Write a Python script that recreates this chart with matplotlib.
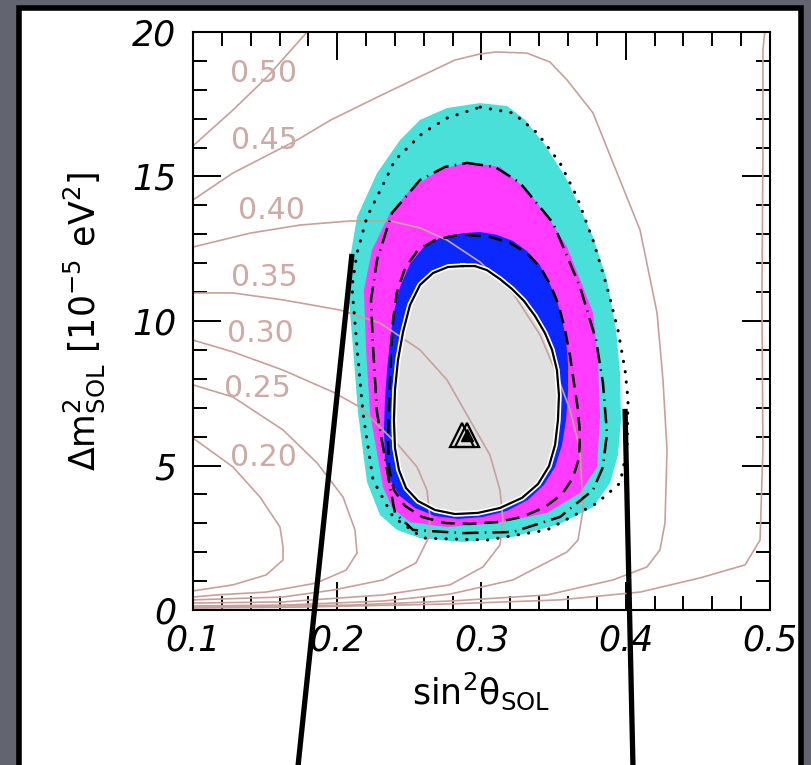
import matplotlib
matplotlib.use('Agg')
import matplotlib.pyplot as plt
from matplotlib.patches import Rectangle
import numpy as np

plt.rcParams['font.family'] = ['DejaVu Sans']
plt.rcParams['mathtext.fontset'] = 'dejavusans'

# ---------------- data (sin^2 theta, dm^2 [1e-5 eV^2]) ----------------
xticks = [0.1, 0.2, 0.3, 0.4, 0.5]
xtick_labels = ['0.1', '0.2', '0.3', '0.4', '0.5']
yticks = [0, 5, 10, 15, 20]
ytick_labels = ['0', '5', '10', '15', '20']

# allowed regions (outer to inner)
teal_x = [0.2990, 0.3177, 0.3302, 0.3440, 0.3593, 0.3773, 0.3870, 0.3933, 0.3960, 0.3967, 0.3946, 0.3891,
          0.3773, 0.3544, 0.3218, 0.2872, 0.2574, 0.2414, 0.2296, 0.2206, 0.2144, 0.2109, 0.2081, 0.2095,
          0.2137, 0.2276, 0.2435, 0.2574, 0.2761]
teal_y = [17.54, 17.44, 16.96, 16.09, 14.88, 12.91, 11.42, 9.69, 8.20, 6.57, 5.36, 4.39,
          3.56, 2.98, 2.53, 2.35, 2.49, 2.77, 3.29, 4.43, 6.82, 9.10, 10.73, 12.35,
          13.60, 15.12, 16.26, 16.96, 17.37]

dot_x = [0.2990, 0.3218, 0.3385, 0.3544, 0.3662, 0.3773, 0.3870, 0.3946, 0.3995, 0.4016, 0.4009, 0.3960,
         0.3801, 0.3454, 0.3038, 0.2594, 0.2387, 0.2248, 0.2178, 0.2137, 0.2102, 0.2137, 0.2206, 0.2310,
         0.2400, 0.2594, 0.2761]
dot_y = [17.40, 17.20, 16.51, 15.47, 14.29, 12.80, 11.18, 9.69, 8.30, 7.27, 5.54, 4.39,
         3.70, 2.77, 2.42, 2.49, 3.22, 4.50, 6.82, 9.10, 11.18, 12.35, 13.60, 14.64,
         15.57, 16.51, 17.02]

mag_x = [0.2899, 0.3128, 0.3315, 0.3475, 0.3593, 0.3697, 0.3773, 0.3808, 0.3822, 0.3801, 0.3683, 0.3454,
         0.3107, 0.2761, 0.2504, 0.2380, 0.2317, 0.2227, 0.2199, 0.2185, 0.2241, 0.2366, 0.2525, 0.2712]
mag_y = [15.50, 15.33, 14.53, 13.49, 12.56, 11.25, 10.28, 8.65, 6.68, 4.95, 4.05, 3.36,
         3.01, 2.87, 3.04, 3.53, 4.26, 6.82, 9.10, 11.07, 12.46, 13.74, 14.64, 15.22]

dd_x = [0.2899, 0.3094, 0.3267, 0.3496, 0.3683, 0.3794, 0.3842, 0.3870, 0.3842, 0.3773, 0.3544, 0.3218,
        0.2872, 0.2525, 0.2400, 0.2366, 0.2276, 0.2248, 0.2234, 0.2276, 0.2380, 0.2574, 0.2747]
dd_y = [15.47, 15.33, 14.78, 13.39, 11.18, 9.34, 7.85, 6.12, 4.95, 4.15, 3.22, 2.70,
        2.66, 2.77, 3.36, 4.26, 6.82, 9.10, 10.73, 12.11, 13.74, 14.88, 15.33]

blue_x = [0.2872, 0.2990, 0.3107, 0.3218, 0.3315, 0.3399, 0.3461, 0.3516, 0.3558, 0.3586, 0.3600, 0.3600,
          0.3586, 0.3558, 0.3510, 0.3433, 0.3322, 0.3177, 0.3010, 0.2837, 0.2678, 0.2539, 0.2435, 0.2366,
          0.2331, 0.2324, 0.2331, 0.2345, 0.2366, 0.2393, 0.2435, 0.2504, 0.2594, 0.2712]
blue_y = [13.04, 13.08, 12.98, 12.77, 12.42, 11.97, 11.42, 10.80, 10.10, 9.34, 8.48, 7.54,
          6.57, 5.71, 4.95, 4.33, 3.81, 3.43, 3.22, 3.15, 3.25, 3.53, 3.94, 4.50,
          5.19, 6.23, 7.27, 8.30, 9.34, 10.31, 11.18, 11.97, 12.53, 12.87]

dash_x = [0.2899, 0.3059, 0.3198, 0.3315, 0.3412, 0.3482, 0.3537, 0.3579, 0.3614, 0.3641, 0.3669, 0.3683,
          0.3676, 0.3634, 0.3558, 0.3440, 0.3281, 0.3107, 0.2920, 0.2747, 0.2588, 0.2470, 0.2393, 0.2359,
          0.2352, 0.2359, 0.2366, 0.2373, 0.2387, 0.2414, 0.2470, 0.2560, 0.2678, 0.2796]
dash_y = [12.98, 12.91, 12.70, 12.35, 11.83, 11.21, 10.52, 9.69, 8.79, 7.85, 6.92, 6.06,
          5.26, 4.57, 4.01, 3.56, 3.22, 3.04, 2.98, 3.01, 3.22, 3.60, 4.15, 4.91,
          5.88, 6.92, 7.96, 9.00, 10.03, 11.00, 11.83, 12.46, 12.80, 12.94]

grey_x = [0.2872, 0.2955, 0.3038, 0.3128, 0.3211, 0.3295, 0.3371, 0.3440, 0.3489, 0.3523, 0.3537, 0.3530,
          0.3510, 0.3468, 0.3392, 0.3281, 0.3128, 0.2976, 0.2816, 0.2678, 0.2560, 0.2477, 0.2428, 0.2400,
          0.2393, 0.2400, 0.2421, 0.2456, 0.2504, 0.2574, 0.2664, 0.2768]
grey_y = [11.90, 11.90, 11.76, 11.45, 11.11, 10.69, 10.17, 9.58, 9.00, 8.30, 7.44, 6.57,
          5.71, 4.98, 4.36, 3.88, 3.53, 3.36, 3.32, 3.46, 3.77, 4.22, 4.84, 5.61,
          6.57, 7.61, 8.65, 9.62, 10.55, 11.25, 11.66, 11.87]

best_fit_x = [0.2865, 0.2900]
best_fit_y = [6.06, 6.06]

# iso-contours
c20_x = [0.1, 0.1277, 0.1464, 0.1603, 0.1624, 0.1624, 0.1506, 0.1277, 0.1]
c20_y = [5.95, 4.95, 3.91, 2.87, 2.18, 1.73, 1.21, 0.87, 0.66]
c25_x = [0.1, 0.1277, 0.1624, 0.1860, 0.2040, 0.2123, 0.2137, 0.2061, 0.1853, 0.1506, 0.1159, 0.1]
c25_y = [7.79, 7.37, 6.23, 5.09, 3.91, 2.77, 1.97, 1.38, 0.93, 0.62, 0.52, 0.45]
c30_x = [0.1, 0.1277, 0.1624, 0.1971, 0.2158, 0.2296, 0.2435, 0.2553, 0.2622, 0.2643, 0.2636, 0.2546,
         0.2317, 0.1971, 0.1624, 0.1]
c30_y = [9.34, 8.93, 8.30, 7.54, 7.02, 6.33, 5.64, 4.95, 4.15, 3.22, 2.53, 1.63,
         1.04, 0.69, 0.45, 0.35]
c35_x = [0.1, 0.1277, 0.1624, 0.2019, 0.2296, 0.2574, 0.2761, 0.2920, 0.3059, 0.3128, 0.3149, 0.3128,
         0.3010, 0.2782, 0.2317, 0.1624, 0.1]
c35_y = [10.97, 10.97, 10.73, 10.38, 9.93, 9.00, 7.96, 6.57, 5.36, 4.15, 3.11, 2.25,
         1.49, 0.87, 0.52, 0.28, 0.24]
c40_x = [0.1, 0.1395, 0.1742, 0.2088, 0.2366, 0.2574, 0.2761, 0.2990, 0.3218, 0.3406, 0.3510, 0.3614,
         0.3683, 0.3704, 0.3669, 0.3593, 0.3218, 0.2782, 0.2317, 0.1624, 0.1]
c40_y = [12.56, 13.04, 13.32, 13.46, 13.46, 13.22, 12.80, 12.04, 10.97, 9.52, 8.30, 6.92,
         5.54, 3.46, 2.42, 2.01, 1.04, 0.55, 0.31, 0.17, 0.14]
c45_x = [0.1, 0.1277, 0.1721, 0.1957, 0.2296, 0.2525, 0.2816, 0.2990, 0.3101, 0.3315, 0.3475, 0.3593,
         0.3773, 0.3912, 0.4099, 0.4217, 0.4258, 0.4286, 0.4272, 0.4237, 0.4147, 0.3912, 0.3454, 0.2782,
         0.2088, 0.1]
c45_y = [14.19, 15.12, 16.26, 16.96, 17.79, 18.34, 19.03, 19.24, 19.31, 19.27, 18.96, 18.34,
         17.20, 15.47, 13.15, 10.28, 7.96, 5.54, 3.01, 2.08, 1.49, 1.04, 0.52, 0.31,
         0.17, 0.10]
c50a_x = [0.1, 0.1277, 0.1513, 0.1800]
c50a_y = [16.06, 17.30, 18.44, 20.05]
c50b_x = [0.4965, 0.4951, 0.4951, 0.4944, 0.4951, 0.4931, 0.4827, 0.4515, 0.4099, 0.3544, 0.2782, 0.1742, 0.1]
c50b_y = [20.05, 19.38, 15.92, 10.73, 5.54, 2.42, 1.56, 1.11, 0.62, 0.35, 0.21, 0.10, 0.07]

contour_labels = ['0.50', '0.45', '0.40', '0.35', '0.30', '0.25', '0.20']
label_x = [0.1492, 0.1492, 0.1541, 0.1492, 0.1464, 0.1444, 0.1485]
label_y = [18.58, 16.26, 13.81, 11.52, 9.58, 7.68, 5.29]

# overlay pointer lines
ptr_left_x = [0.2102, 0.1728]
ptr_left_y = [12.32, -5.4]
ptr_right_x = [0.3995, 0.4050]
ptr_right_y = [6.96, -5.4]

# ---------------- figure ----------------
W, H = 812, 765
fig = plt.figure(figsize=(W / 100, H / 100), dpi=100, facecolor='#62656f')
panel = Rectangle((19.5 / W, -0.05), (801.5 - 19.5) / W, 1 - 8 / H + 0.05,
                  transform=fig.transFigure, facecolor='white', edgecolor='black',
                  linewidth=4.0, zorder=-10)
fig.add_artist(panel)

ax = fig.add_axes([193 / W, 1 - 610 / H, 577 / W, 578 / H])
ax.set_zorder(5)
ax.set_facecolor('white')
ax.set_xlim(0.1, 0.5)
ax.set_ylim(0, 20)

def closed(a):
    return list(a) + [a[0]]

ax.fill(teal_x, teal_y, color='#48E0D8', lw=0, zorder=1)
ax.fill(mag_x, mag_y, color='#FF3CFF', lw=0, zorder=1.1)
ax.fill(blue_x, blue_y, color='#0A28FF', lw=0, zorder=1.2)
ax.fill(grey_x, grey_y, color='#E0E0E0', lw=0, zorder=1.3)

brown = '#C8A09B'
for cx, cy in [(c20_x, c20_y), (c25_x, c25_y), (c30_x, c30_y), (c35_x, c35_y),
               (c40_x, c40_y), (c45_x, c45_y), (c50a_x, c50a_y), (c50b_x, c50b_y)]:
    ax.plot(cx, cy, color=brown, lw=1.2, zorder=2)

for t, lx, ly in zip(contour_labels, label_x, label_y):
    ax.text(lx, ly, t, color='#CDAAA5', fontsize=21.5, ha='center', va='center', zorder=2.5)

ax.plot(closed(dot_x), closed(dot_y), color='black', lw=2.2, linestyle=(0, (0.1, 3.3)),
        dash_capstyle='round', zorder=3)
ax.plot(closed(dd_x), closed(dd_y), color='black', lw=1.8, linestyle=(0, (6.5, 2.5, 0.6, 2.5)), zorder=3)
ax.plot(closed(dash_x), closed(dash_y), color='black', lw=1.8, linestyle=(0, (5.5, 3.2)), zorder=3)
ax.plot(closed(grey_x), closed(grey_y), color='white', lw=4.0, zorder=3)
ax.plot(closed(grey_x), closed(grey_y), color='black', lw=1.6, zorder=3.1)

ax.plot(best_fit_x, best_fit_y, linestyle='none', marker='^', ms=17, mfc='none', mec='black',
        mew=1.6, zorder=4)
ax.plot(best_fit_x[1:], best_fit_y[1:], linestyle='none', marker='^', ms=8, mfc='black', mec='black',
        zorder=4)

ax.plot(ptr_left_x, ptr_left_y, color='black', lw=3.8, clip_on=False, zorder=10, solid_capstyle='butt')
ax.plot(ptr_right_x, ptr_right_y, color='black', lw=3.8, clip_on=False, zorder=10, solid_capstyle='butt')

# axes styling
for s in ax.spines.values():
    s.set_linewidth(1.5)
    s.set_zorder(5)
ax.set_xticks(xticks)
ax.set_xticklabels(xtick_labels, fontstyle='italic')
ax.set_yticks(yticks)
ax.set_yticklabels(ytick_labels, fontstyle='italic')
ax.set_xticks(np.arange(0.1, 0.5001, 0.02), minor=True)
ax.set_yticks(np.arange(0, 20.001, 1), minor=True)
ax.tick_params(which='both', direction='in', top=True, right=True, width=1.4, color='black')
ax.tick_params(which='major', length=20, labelsize=25)
ax.tick_params(which='minor', length=10)
ax.tick_params(axis='x', which='major', pad=10)
ax.tick_params(axis='y', which='major', pad=12)

ax.text(0.5, -0.14, r'$\mathrm{sin}^{2}\mathrm{\theta}_{\mathrm{SOL}}$', transform=ax.transAxes,
        fontsize=25, ha='center', va='center')
ax.text(-0.189, 0.5, r'$\Delta\mathrm{m}^{2}_{\mathrm{SOL}}\ [10^{-5}\ \mathrm{eV}^{2}]$',
        transform=ax.transAxes, fontsize=25, ha='center', va='center', rotation=90)

fig.savefig('out.png', dpi=100, facecolor=fig.get_facecolor())
